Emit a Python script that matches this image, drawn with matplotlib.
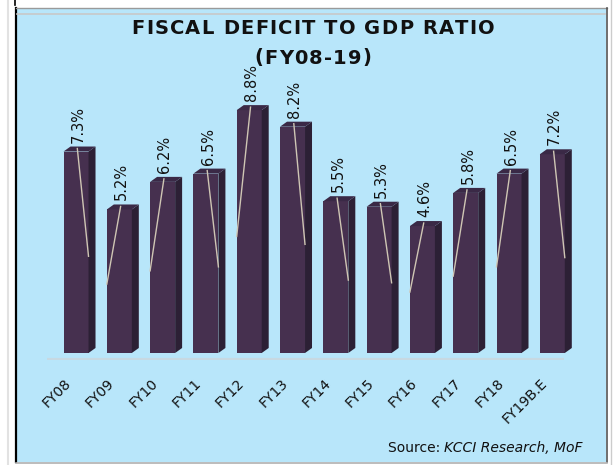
import matplotlib
matplotlib.use("Agg")
import matplotlib.pyplot as plt
from matplotlib.patches import Rectangle, Polygon
from matplotlib.lines import Line2D
import matplotlib.transforms as mtrans

# data
years = ['FY08', 'FY09', 'FY10', 'FY11', 'FY12', 'FY13', 'FY14', 'FY15',
         'FY16', 'FY17', 'FY18', 'FY19B.E']
deficit = [7.3, 5.2, 6.2, 6.5, 8.8, 8.2, 5.5, 5.3, 4.6, 5.8, 6.5, 7.2]
value_labels = ['7.3%', '5.2%', '6.2%', '6.5%', '8.8%', '8.2%', '5.5%', '5.3%',
                '4.6%', '5.8%', '6.5%', '7.2%']
leader_side = [1, -1, -1, 1, -1, 1, 1, 1, -1, -1, -1, 1]

W, H = 613, 465
fig = plt.figure(figsize=(W / 100, H / 100), dpi=100)
fig.patch.set_facecolor('white')
renderer = fig.canvas.get_renderer()

def fx(px):
    return px / W

def fy(py):
    return 1 - py / H

# colors
bg_blue = '#b8e6fa'
front_c = '#46304f'
side_c = '#2c2035'
top_c = '#3a2946'
leader_c = '#cfc6b4'

# panel with borders
fig.patches.append(Rectangle((fx(16), fy(462)), fx(590), 453 / H, transform=fig.transFigure,
                             facecolor=bg_blue, edgecolor='none', zorder=-10))
def fline(xp, yp, **kw):
    fig.lines.append(Line2D([fx(p) for p in xp], [fy(p) for p in yp],
                            transform=fig.transFigure, zorder=-5, **kw))

fline([16, 16], [8, 462], color='black', lw=1.6)
fline([14.5, 14.5], [0, 5], color='black', lw=1.2)
fline([16, 607], [8, 8], color='#9a9a9a', lw=1.0)
fline([17, 605], [14.5, 14.5], color='#c8c8c8', lw=1.2)
fline([607, 607], [8, 462], color='#555555', lw=1.2)
fline([610.5, 610.5], [0, 465], color='#cccccc', lw=1.0)
fline([16, 607], [462.5, 462.5], color='#b0b0b0', lw=1.2)
fline([8, 8], [0, 465], color='#e2e2e2', lw=1.5)

# title, letter spaced: place each character
def spaced_text(s, cx, cy, track=1.2, **kw):
    widths = []
    for ch in s:
        t = fig.text(0, 0, ch, **kw)
        widths.append(t.get_window_extent(renderer).width if ch != ' ' else None)
        t.remove()
    sp = fig.text(0, 0, 'a a', **kw)
    sw = sp.get_window_extent(renderer).width
    sp.remove()
    aa = fig.text(0, 0, 'aa', **kw)
    sw -= aa.get_window_extent(renderer).width
    aa.remove()
    widths = [w if w is not None else sw for w in widths]
    total = sum(widths) + track * (len(s) - 1)
    x = cx - total / 2
    for ch, w in zip(s, widths):
        fig.text(fx(x), fy(cy), ch, ha='left', va='center', **kw)
        x += w + track

title_kw = dict(fontsize=14, fontweight='bold', color='#111111', family='DejaVu Sans')
spaced_text('FISCAL DEFICIT TO GDP RATIO', 313, 29, **title_kw)
spaced_text('(FY08-19)', 313, 58, **title_kw)

ax = fig.add_axes([fx(17), fy(360), 588 / W, 300 / H])
ax.patch.set_alpha(0)
ax.set_xlim(-1.363, 12.217)
ax.set_ylim(-0.254, 10.616)
ax.axis('off')

# pixel -> data sizes for the 3D depth
x_per_px = 1 / (ax.transData.transform((1, 0))[0] - ax.transData.transform((0, 0))[0])
y_per_px = 1 / (ax.transData.transform((0, 1))[1] - ax.transData.transform((0, 0))[1])
bar_w = 25 * x_per_px
dx = 7 * x_per_px
dy = 5 * y_per_px

n = len(years)
xs = list(range(n))

# base line
ax.plot([-0.67, n - 0.73], [-0.25, -0.25], color='#c7d9e2', lw=3, solid_capstyle='butt', zorder=1)

ax.bar(xs, deficit, width=bar_w, color=front_c, edgecolor='none', zorder=3)
for x, v in zip(xs, deficit):
    xl, xr = x - bar_w / 2, x + bar_w / 2
    ax.add_patch(Polygon([(xr, 0), (xr + dx, dy), (xr + dx, v + dy), (xr, v)],
                         closed=True, facecolor=side_c, edgecolor='none', zorder=3))
    ax.add_patch(Polygon([(xl, v), (xr, v), (xr + dx, v + dy), (xl + dx, v + dy)],
                         closed=True, facecolor=top_c, edgecolor='none', zorder=3))

# leader lines and value labels
for x, v, lab, s in zip(xs, deficit, value_labels, leader_side):
    ax.plot([x + 0.03, x + s * bar_w / 2], [v + dy * 0.6, v * 0.48], color=leader_c,
            lw=1.0, zorder=4)
    ax.text(x + 0.05, v + dy + 4 * y_per_px, lab, rotation=90, ha='center', va='bottom',
            fontsize=10.5, color='#111111', zorder=5)

# category labels
off = mtrans.ScaledTranslation(-7 / 100, -28 / 100, fig.dpi_scale_trans)
for x, lab in zip(xs, years):
    ax.text(x, 0, lab, rotation=45, ha='right', va='center', rotation_mode='anchor',
            fontsize=10, color='#111111', transform=ax.transData + off)

# source note
src = fig.text(fx(583), fy(452), 'KCCI Research, MoF', ha='right', va='baseline',
               fontsize=10, style='italic', color='#111111')
bb = src.get_window_extent(renderer)
fig.text(bb.x0 / W, fy(452), 'Source: ', ha='right', va='baseline',
         fontsize=10, color='#111111')

fig.savefig('out.png', dpi=100)
